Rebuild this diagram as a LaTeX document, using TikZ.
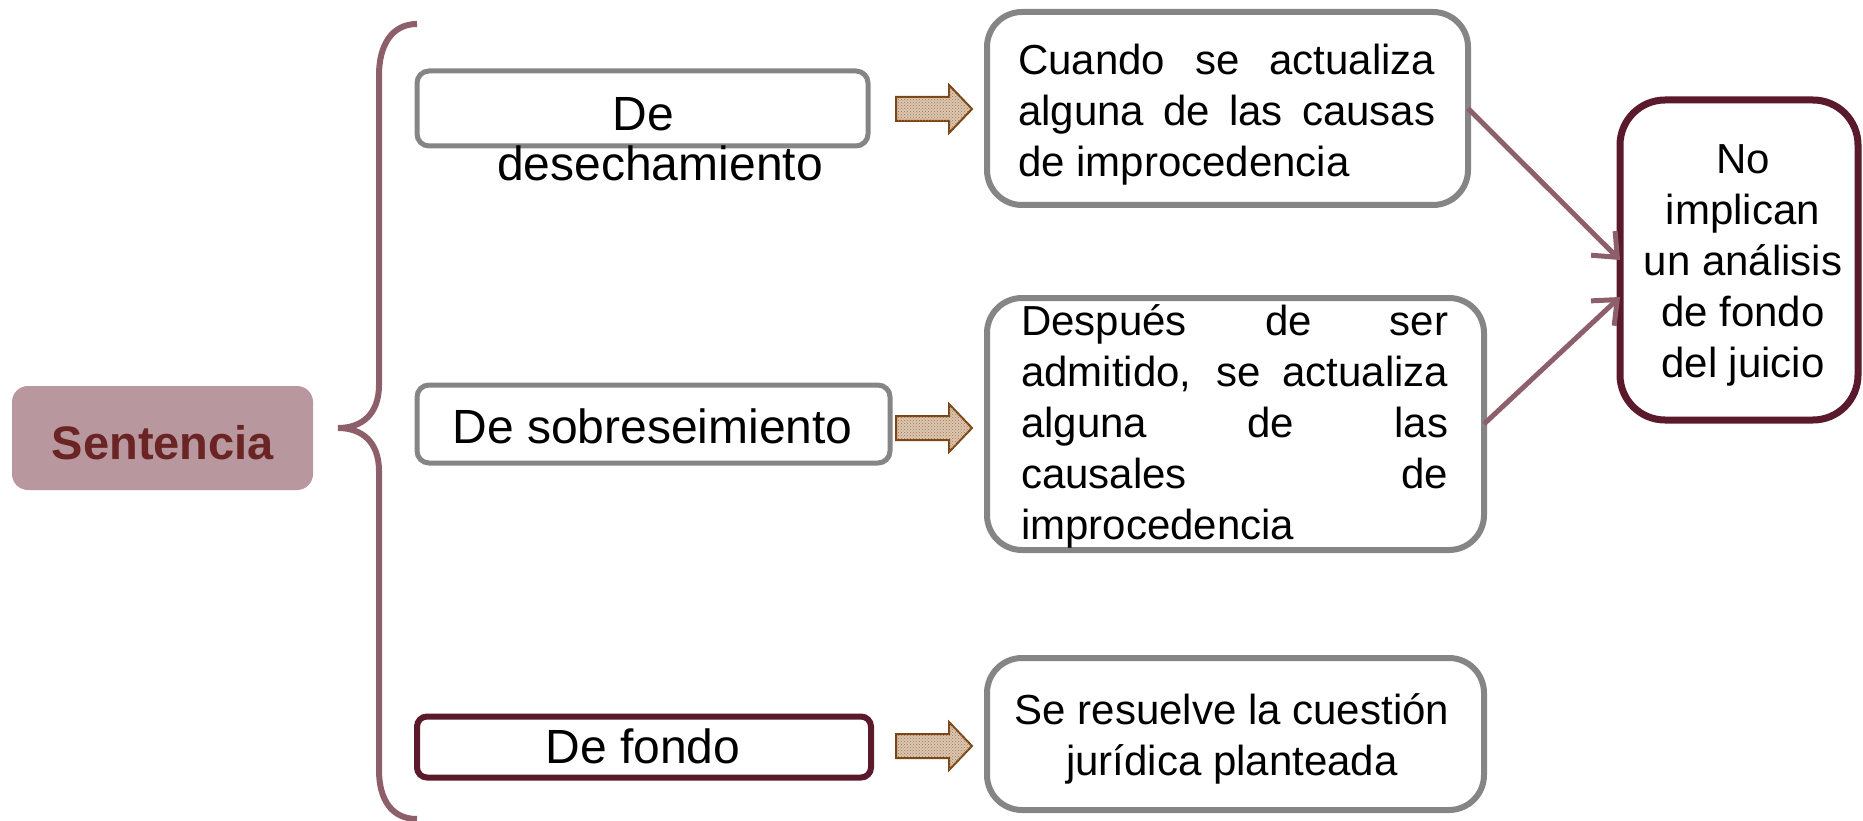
\documentclass[tikz,border=0pt]{standalone}
\usepackage{fontspec}
\setmainfont{Liberation Sans}
\usetikzlibrary{arrows.meta,patterns,calc}
\definecolor{boxgray}{HTML}{858585}
\definecolor{darkmaroon}{HTML}{5A1A2B}
\definecolor{mauve}{HTML}{8C5F6B}
\definecolor{sentfill}{HTML}{B8979E}
\definecolor{senttext}{HTML}{6A2424}
\definecolor{arrowbrown}{HTML}{7A4514}
\definecolor{arrowfill}{HTML}{DCC6B0}
\definecolor{arrowdot}{HTML}{9E7450}
\begin{document}
\begin{tikzpicture}[x=1pt,y=-1pt,
  boxbase/.style={rectangle, inner sep=0pt, outer sep=0pt, fill=white},
  lbox/.style={boxbase, draw=boxgray, line width=5pt, rounded corners=12pt},
  rbox/.style={boxbase, draw=boxgray, line width=6pt, rounded corners=35pt},
  mbox/.style={boxbase, draw=darkmaroon, line width=6pt, rounded corners=10pt},
  nobox/.style={boxbase, draw=darkmaroon, line width=7pt, rounded corners=45pt},
  ltext/.style={inner sep=0pt, font=\fontsize{48}{50}\selectfont, align=center},
  rtext/.style={inner sep=0pt, font=\fontsize{42}{51}\selectfont},
  conn/.style={draw=mauve, line width=5pt, -{Straight Barb[length=20pt,width=34pt]}},
  harrow/.pic={
    \draw[arrowbrown, line width=2pt, fill=arrowfill,
          postaction={pattern=crosshatch dots, pattern color=arrowdot}]
      (-38,-12) -- (15,-12) -- (15,-24) -- (38,0) -- (15,24) -- (15,12) -- (-38,12) -- cycle;
  }
]
\useasboundingbox (0,0) rectangle (1863,821);

% Sentencia
\node[rectangle, fill=sentfill, rounded corners=16pt, minimum width=301pt, minimum height=104pt, inner sep=0pt] (sent) at (162.5,438) {};
\node[inner sep=0pt, anchor=base, font=\fontsize{47}{54}\selectfont\bfseries, text=senttext] (senttxt) at (163,459) {Sentencia};

% brace
\draw[mauve, line width=6pt]
  (417,24) .. controls (392,24) and (379,45) .. (379,75) -- (379,385)
  .. controls (379,414) and (362,428) .. (338,428)
  .. controls (362,428) and (379,442) .. (379,471) -- (379,770)
  .. controls (379,800) and (392,819) .. (417,819);

% left boxes
\node[lbox, minimum width=451pt, minimum height=75pt] (b1) at (642.5,108.5) {};
\node[ltext, anchor=north] (b1txt) at (660,87) {\vrule height43pt width0pt De\makebox[33pt]{}\\desechamiento};
\node[lbox, minimum width=473pt, minimum height=78pt] (b2) at (653.5,424) {};
\node[ltext, anchor=base] (b2txt) at (652.5,443) {De sobreseimiento};
\node[mbox, minimum width=454pt, minimum height=61pt] (b3) at (644,747) {};
\node[ltext, anchor=base] (b3txt) at (643,763) {De fondo};

% hollow arrows
\pic at (934,109) {harrow};
\pic at (934,428) {harrow};
\pic at (934,746) {harrow};

% right boxes
\node[rbox, minimum width=481pt, minimum height=193pt] (c1) at (1227.5,108.5) {};
\node[rtext, anchor=north west, align=left] (c1txt) at (1018,36) {%
  \vrule height38pt width0pt\makebox[417pt][s]{Cuando se actualiza}\\
  \makebox[417pt][s]{alguna de las causas}\\
  de improcedencia};

\node[rbox, minimum width=497pt, minimum height=252pt] (c2) at (1235.5,424) {};
\node[rtext, anchor=north west, align=left] (c2txt) at (1021,297) {%
  \vrule height38pt width0pt\makebox[427pt][s]{Después de ser}\\
  \makebox[427pt][s]{admitido, se actualiza}\\
  \makebox[427pt][s]{alguna de las}\\
  \makebox[427pt][s]{causales de}\\
  improcedencia};

\node[rbox, minimum width=497pt, minimum height=152pt] (c3) at (1235.5,734) {};
\node[rtext, anchor=north, align=center] (c3txt) at (1232,686) {%
  \vrule height38pt width0pt Se resuelve la cuestión\\
  jurídica planteada};

% No implican box
\node[nobox, minimum width=238pt, minimum height=320pt] (no) at (1739,260) {};
\node[rtext, anchor=north, align=center] (notxt) at (1743,135) {%
  \vrule height38pt width0pt No\\
  implican\\
  un análisis\\
  de fondo\\
  del juicio};

% connectors
\draw[conn] (c1.east) -- (no.west);
\draw[conn] (c2.east) -- ($(no.west)+(0,37)$);
\end{tikzpicture}
\end{document}
